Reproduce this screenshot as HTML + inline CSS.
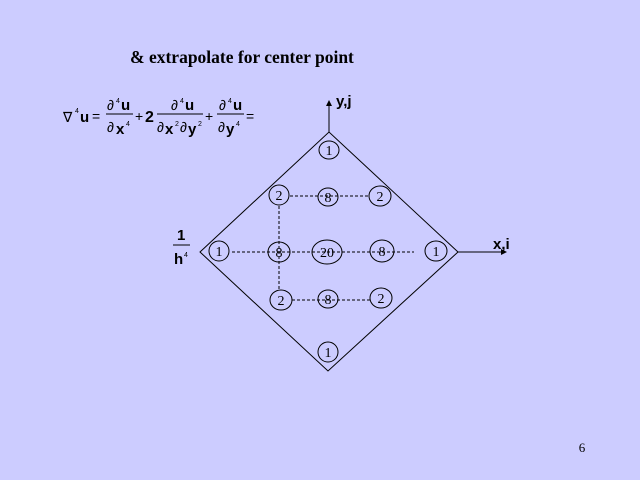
<!DOCTYPE html>
<html><head><style>
body{margin:0;width:640px;height:480px;background:#ccccff;position:relative;overflow:hidden;font-family:"Liberation Sans",sans-serif}
.t{position:absolute;white-space:nowrap;color:#000}
</style></head><body>
<div class="t" style="left:130px;top:47px;font:bold 17.5px 'Liberation Serif',serif">&amp; extrapolate for center point</div>
<svg width="640" height="480" style="position:absolute;left:0;top:0" font-family="Liberation Sans, sans-serif">
<g font-size="14">
<text x="63" y="122">∇</text><text x="75" y="113" font-size="7">4</text><text x="80" y="122" font-weight="bold" font-size="15">u</text><text x="92" y="121">=</text>
<text x="107" y="110">∂</text><text x="116" y="103" font-size="7">4</text><text x="121" y="110" font-weight="bold" font-size="15">u</text>
<line x1="106" y1="114" x2="133" y2="114" stroke="#000"/>
<text x="107" y="132">∂</text><text x="116" y="134" font-weight="bold" font-size="15">x</text><text x="126" y="126" font-size="7">4</text>
<text x="135" y="121">+</text><text x="145" y="122" font-weight="bold" font-size="16">2</text>
<text x="171" y="110">∂</text><text x="180" y="103" font-size="7">4</text><text x="185" y="110" font-weight="bold" font-size="15">u</text>
<line x1="157" y1="114" x2="203" y2="114" stroke="#000"/>
<text x="157" y="132">∂</text><text x="165" y="134" font-weight="bold" font-size="15">x</text><text x="175" y="126" font-size="7">2</text><text x="180" y="132">∂</text><text x="188" y="134" font-weight="bold" font-size="15">y</text><text x="198" y="126" font-size="7">2</text>
<text x="205" y="121">+</text>
<text x="219" y="110">∂</text><text x="228" y="103" font-size="7">4</text><text x="233" y="110" font-weight="bold" font-size="15">u</text>
<line x1="217" y1="114" x2="244" y2="114" stroke="#000"/>
<text x="218" y="132">∂</text><text x="226" y="134" font-weight="bold" font-size="15">y</text><text x="236" y="126" font-size="7">4</text>
<text x="246" y="121">=</text>
</g>
<text x="177" y="240" font-size="15" font-weight="bold">1</text>
<line x1="173" y1="245" x2="190" y2="245" stroke="#000"/>
<text x="174" y="264" font-size="15" font-weight="bold">h</text><text x="184" y="257" font-size="7">4</text>
<polygon points="200,252 329,132 458,252 328,371" fill="none" stroke="#000"/>
<line x1="329" y1="132" x2="329" y2="104" stroke="#000"/><polygon points="329,100 326,106 332,106"/>
<line x1="458" y1="252" x2="503" y2="252" stroke="#000"/><polygon points="507,252 501,249 501,255"/>
<text x="336" y="106" font-size="15" font-weight="bold">y,j</text>
<text x="493" y="249" font-size="15" font-weight="bold">x,i</text>
<g stroke="#000" stroke-dasharray="3,2" fill="none">
<line x1="290" y1="196" x2="368" y2="196"/>
<line x1="232" y1="252" x2="414" y2="252"/>
<line x1="292" y1="300" x2="370" y2="300"/>
<line x1="279" y1="206" x2="279" y2="290"/>
</g>
<g fill="none" stroke="#000">
<ellipse cx="329" cy="150" rx="10" ry="9"/>
<ellipse cx="279" cy="195" rx="10" ry="10"/>
<ellipse cx="328" cy="197" rx="10" ry="9"/>
<ellipse cx="380" cy="196" rx="11" ry="10"/>
<ellipse cx="219" cy="251" rx="10" ry="10"/>
<ellipse cx="279" cy="252" rx="11" ry="10"/>
<ellipse cx="327" cy="252" rx="15" ry="12"/>
<ellipse cx="382" cy="251" rx="12" ry="11"/>
<ellipse cx="436" cy="251" rx="11" ry="10"/>
<ellipse cx="281" cy="300" rx="11" ry="10"/>
<ellipse cx="328" cy="299" rx="10" ry="9"/>
<ellipse cx="381" cy="298" rx="11" ry="10"/>
<ellipse cx="328" cy="352" rx="10" ry="10"/>
</g>
<g font-family="Liberation Serif, serif" font-size="14" text-anchor="middle">
<text x="329" y="155">1</text>
<text x="279" y="200">2</text><text x="328" y="202">8</text><text x="380" y="201">2</text>
<text x="219" y="256">1</text><text x="279" y="257">8</text><text x="327" y="257">20</text><text x="382" y="256">8</text><text x="436" y="256">1</text>
<text x="281" y="305">2</text><text x="328" y="304">8</text><text x="381" y="303">2</text>
<text x="328" y="357">1</text>
<text x="582" y="452" font-size="13">6</text>
</g>
</svg>
</body></html>
